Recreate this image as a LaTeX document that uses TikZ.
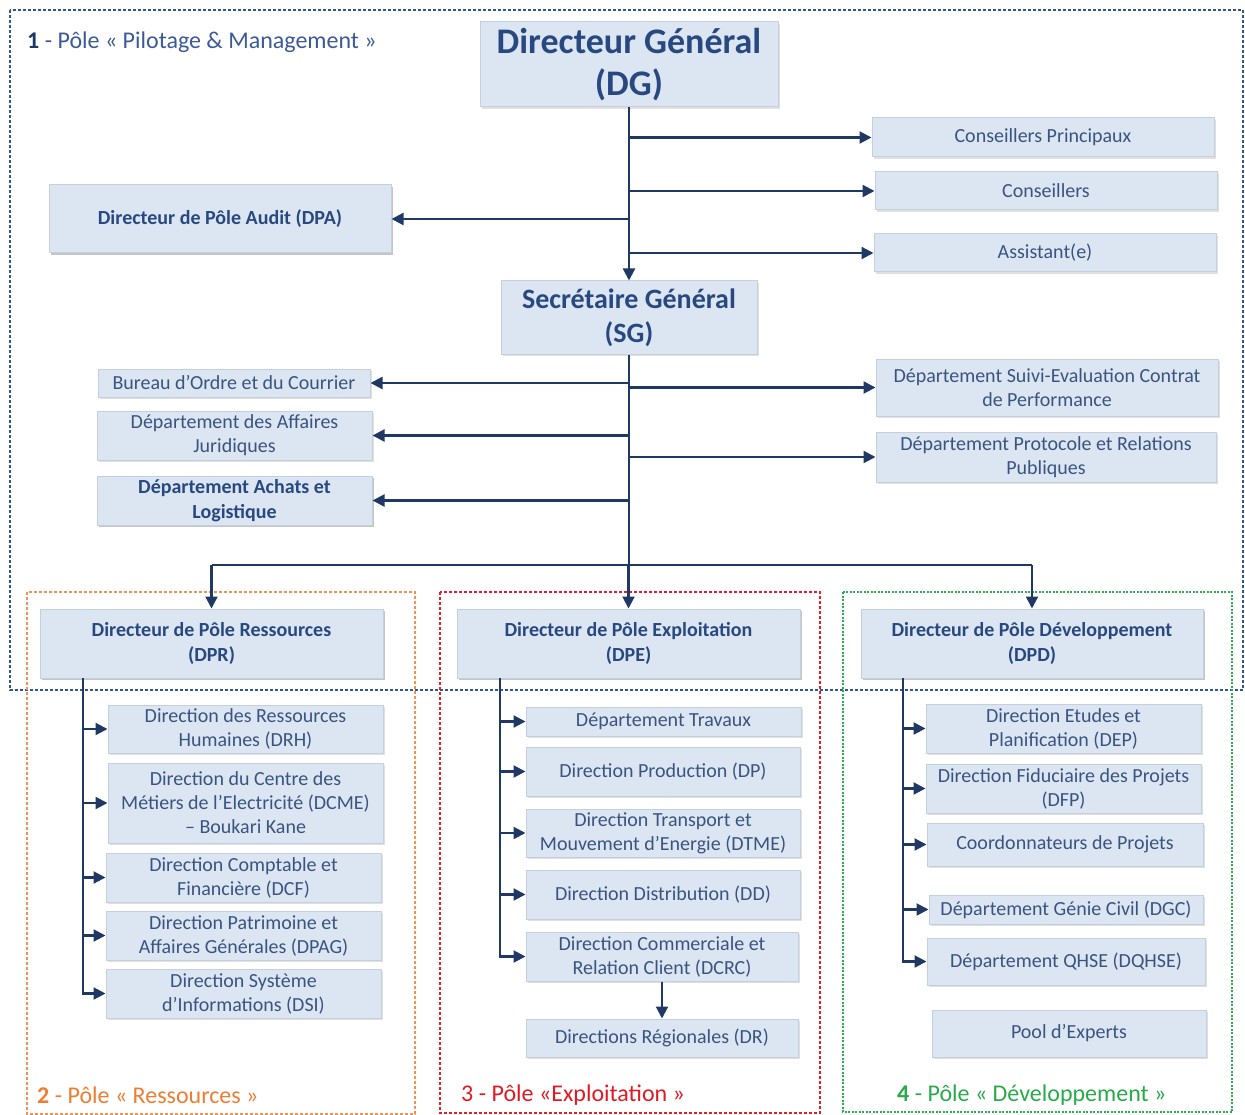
\documentclass[tikz,border=0pt]{standalone}
\usepackage{fontspec}
\setmainfont{Carlito}
\usetikzlibrary{arrows.meta,shadows}
\definecolor{boxfill}{RGB}{220,230,242}
\definecolor{boxdraw}{RGB}{196,208,224}
\definecolor{boxtext}{RGB}{58,84,128}
\definecolor{titletext}{RGB}{40,72,128}
\definecolor{conn}{RGB}{31,56,100}
\definecolor{frameblue}{RGB}{47,85,151}
\definecolor{frameorange}{RGB}{240,145,85}
\definecolor{framered}{RGB}{228,30,40}
\definecolor{framegreen}{RGB}{40,175,80}
\definecolor{labblue}{RGB}{60,90,150}
\definecolor{laborange}{RGB}{237,125,49}
\definecolor{labred}{RGB}{225,25,35}
\definecolor{labgreen}{RGB}{40,170,75}
\tikzset{
  box/.style={draw=boxdraw, fill=boxfill, line width=1pt, align=center, text=boxtext,
    font=\fontsize{20}{24}\selectfont, inner sep=1pt,
    drop shadow={shadow xshift=2pt, shadow yshift=-2pt, fill=black, opacity=0.12}},
  boldbox/.style={box, text=titletext, font=\fontsize{20}{24.5}\selectfont\bfseries},
  conline/.style={draw=conn, line width=2.2pt},
  arr/.style={conline, -{Triangle[length=12pt,width=12pt]}},
  frame/.style={line width=1.4pt, dash pattern=on 3pt off 2pt},
  pole/.style={anchor=west, font=\fontsize{24}{28}\selectfont, inner sep=0pt}
}
\newcommand\bx[7][]{\node[box,minimum width={(#5-#3)*1pt},minimum height={(#6-#4)*1pt},#1] (#2) at ({(#3+#5)/2},{(#4+#6)/2}) {#7};}
\begin{document}
\begin{tikzpicture}[x=1pt,y=-1pt]
\useasboundingbox (0,0) rectangle (1245,1115);
% frames
\draw[frame, draw=frameblue] (10,10) rectangle (1243,690);
\draw[frame, draw=frameorange] (27,592) rectangle (415,1114);
\draw[frame, draw=framered] (440,592) rectangle (820,1113);
\draw[frame, draw=framegreen, dash pattern=on 2pt off 1.5pt] (843,592) rectangle (1232,1112);
% pole labels
\node[pole, text=labblue] (L1) at (27,42) {\textcolor{conn}{\bfseries 1} - Pôle « Pilotage \& Management »};
\node[pole, text=laborange] (L2) at (37,1095) {\textbf{2} - Pôle « Ressources »};
\node[pole, text=labred] (L3) at (461,1095) {3 - Pôle «Exploitation »};
\node[pole, text=labgreen] (L4) at (897,1095) {\textbf{4} - Pôle « Développement »};
% top level
\bx[text=titletext,font=\fontsize{36}{42}\selectfont\bfseries]{DG}{480}{22}{778}{107}{Directeur Général\\(DG)}
\bx{CP}{872}{118}{1214}{157}{Conseillers Principaux}
\bx{CO}{875}{172}{1217}{210}{Conseillers}
\bx{AS}{874}{234}{1216}{272}{Assistant(e)}
\bx[boldbox]{DPA}{49}{185}{391}{253}{Directeur de Pôle Audit (DPA)}
\bx[text=titletext,font=\fontsize{28}{34}\selectfont\bfseries]{SG}{501}{281}{757}{354}{Secrétaire Général\\(SG)}
\bx{BOC}{98}{369}{370}{397}{Bureau d’Ordre et du Courrier}
\bx{DAJ}{97}{411}{372}{460}{Département des Affaires\\Juridiques}
\bx[boldbox]{DAL}{97}{476}{372}{525}{Département Achats et\\Logistique}
\bx{DSE}{876}{359}{1218}{416}{Département Suivi-Evaluation Contrat\\de Performance}
\bx{DPRP}{876}{432}{1216}{482}{Département Protocole et Relations\\Publiques}
% pole directors
\bx[boldbox]{DPR}{40}{609}{383}{678}{Directeur de Pôle Ressources\\(DPR)}
\bx[boldbox]{DPE}{457}{609}{800}{678}{Directeur de Pôle Exploitation\\(DPE)}
\bx[boldbox]{DPD}{861}{609}{1203}{678}{Directeur de Pôle Développement\\(DPD)}
% ressources
\bx{DRH}{108}{705}{383}{753}{Direction des Ressources\\Humaines (DRH)}
\bx{DCME}{108}{763}{383}{843}{Direction du Centre des\\Métiers de l’Electricité (DCME)\\– Boukari Kane}
\bx{DCF}{106}{853}{381}{902}{Direction Comptable et\\Financière (DCF)}
\bx{DPAG}{106}{911}{381}{960}{Direction Patrimoine et\\Affaires Générales (DPAG)}
\bx{DSI}{106}{969}{381}{1018}{Direction Système\\d’Informations (DSI)}
% exploitation
\bx{DT}{526}{707}{801}{736}{Département Travaux}
\bx{DP}{526}{747}{800}{796}{Direction Production (DP)}
\bx{DTME}{526}{809}{800}{857}{Direction Transport et\\Mouvement d’Energie (DTME)}
\bx{DD}{526}{870}{800}{919}{Direction Distribution (DD)}
\bx{DCRC}{526}{932}{798}{981}{Direction Commerciale et\\Relation Client (DCRC)}
\bx{DR}{526}{1019}{798}{1057}{Directions Régionales (DR)}
% developpement
\bx{DEP}{926}{704}{1201}{753}{Direction Etudes et\\Planification (DEP)}
\bx{DFP}{926}{764}{1201}{813}{Direction Fiduciaire des Projets\\(DFP)}
\bx{CPJ}{927}{823}{1203}{866}{Coordonnateurs de Projets}
\bx{DGC}{929}{895}{1203}{924}{Département Génie Civil (DGC)}
\bx{DQ}{927}{938}{1205}{985}{Département QHSE (DQHSE)}
\bx{PE}{932}{1010}{1206}{1057}{Pool d’Experts}
% connectors DG
\draw[arr] (DG.south) -- (SG.north);
\draw[arr] (DG.south |- CP.west) -- (CP.west);
\draw[arr] (DG.south |- CO.west) -- (CO.west);
\draw[arr] (DG.south |- AS.west) -- (AS.west);
\draw[arr] (DG.south |- DPA.east) -- (DPA.east);
% connectors SG
\coordinate (J) at (629,565);
\draw[conline] (SG.south) -- (J);
\draw[arr] (SG.south |- BOC.east) -- (BOC.east);
\draw[arr] (SG.south |- DAJ.east) -- (DAJ.east);
\draw[arr] (SG.south |- DAL.east) -- (DAL.east);
\draw[arr] (SG.south |- DSE.west) -- (DSE.west);
\draw[arr] (SG.south |- DPRP.west) -- (DPRP.west);
\draw[conline] (DPR.north |- J) -- (DPD.north |- J);
\draw[arr] (DPR.north |- J) -- (DPR.north);
\draw[arr] (DPE.north |- J) -- (DPE.north);
\draw[arr] (DPD.north |- J) -- (DPD.north);
% ressources
\coordinate (R0) at (83,678);
\draw[arr] (R0) |- (DSI.west);
\foreach \n in {DRH,DCME,DCF,DPAG} \draw[arr] (R0 |- \n.west) -- (\n.west);
% exploitation
\coordinate (E0) at (500,678);
\draw[arr] (E0) |- (DCRC.west);
\foreach \n in {DT,DP,DTME,DD} \draw[arr] (E0 |- \n.west) -- (\n.west);
\draw[arr] (DCRC.south) -- (DR.north);
% developpement
\coordinate (D0) at (903,678);
\draw[arr] (D0) |- (DQ.west);
\foreach \n in {DEP,DFP,CPJ,DGC} \draw[arr] (D0 |- \n.west) -- (\n.west);
\end{tikzpicture}
\end{document}
